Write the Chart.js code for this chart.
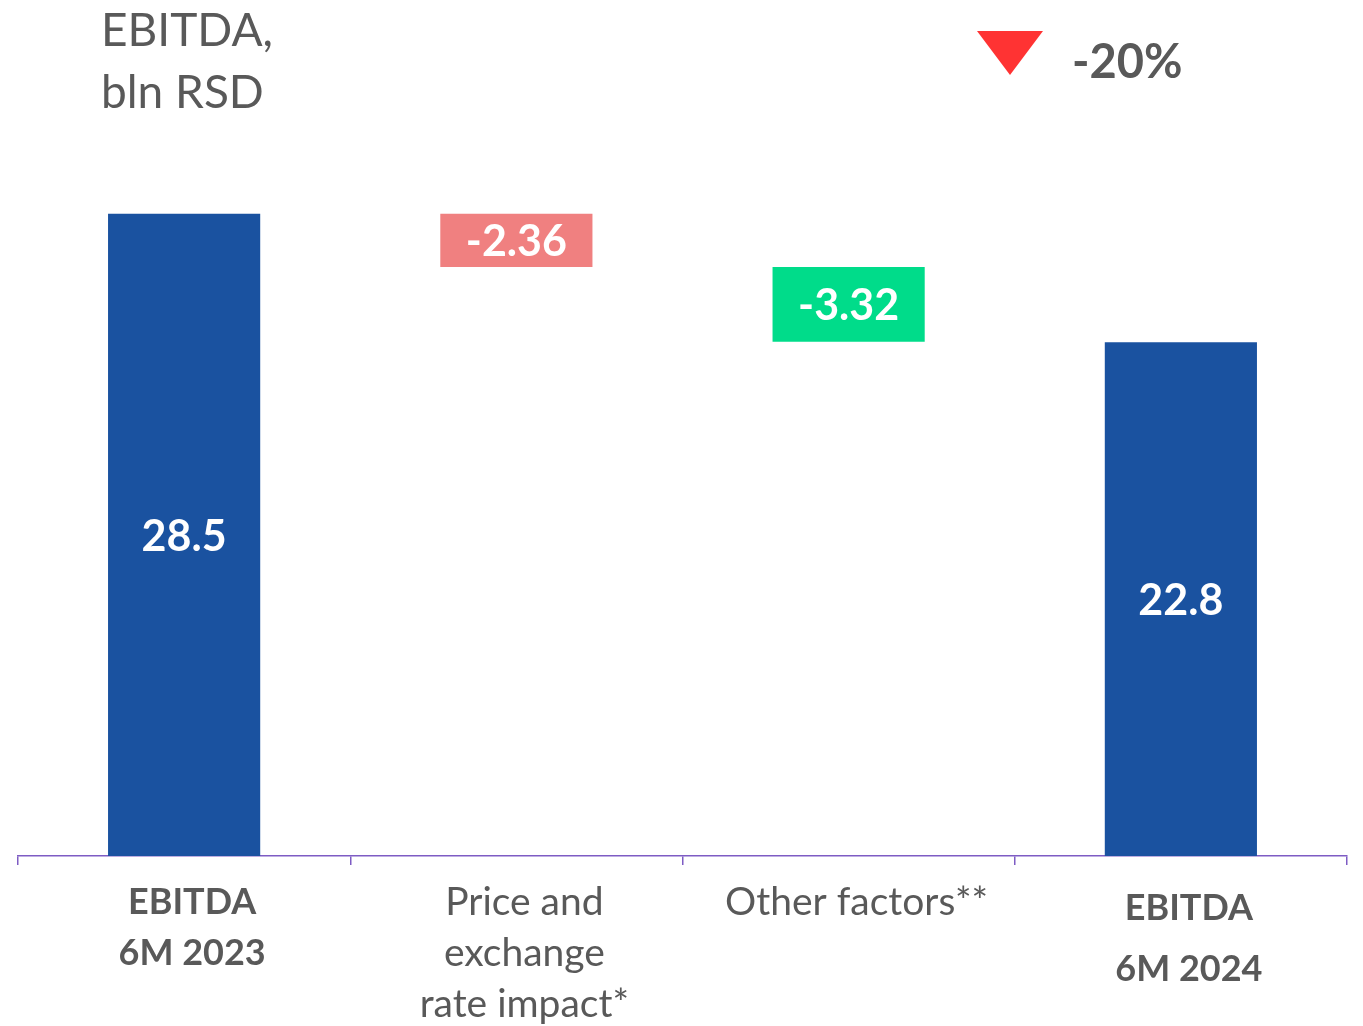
<!DOCTYPE html>
<html>
<head>
<meta charset="utf-8">
<script src="https://cdn.jsdelivr.net/npm/chart.js@4.4.1/dist/chart.umd.min.js"></script>
<style>
  html, body { margin: 0; padding: 0; background: #fff; }
  #wrap { position: relative; width: 1363px; height: 1026px; }
</style>
</head>
<body>
<div id="wrap"><canvas id="ebitdaChart" width="1363" height="1026"></canvas></div>
<script>
const categories = [
  ['EBITDA', '6M 2023'],
  ['Price and', 'exchange', 'rate impact*'],
  ['Other factors**'],
  ['EBITDA', '6M 2024'],
];
const values = [28.5, -2.36, -3.32, 22.8];
const isTotal = [true, false, false, true];
const barColors = ['#1A52A0', '#F08080', '#00DC8A', '#1A52A0'];
const titleLines = ['EBITDA,', 'bln RSD'];
const changeLabel = '-20%';

const FONT = 'Lato, "Open Sans", sans-serif';
const GRAY = '#595959';
const AXIS = '#7E5CC4';

// waterfall: totals start at 0, steps float from the running total
function buildRanges() {
  let running = 0;
  return values.map((v, i) => {
    if (isTotal[i]) {
      running = v;
      return [0, v];
    }
    const start = running;
    running += v;
    return [running, start];
  });
}

const valueLabels = {
  id: 'valueLabels',
  afterDatasetsDraw(chart) {
    const { ctx } = chart;
    const meta = chart.getDatasetMeta(0);
    ctx.save();
    ctx.fillStyle = '#fff';
    ctx.font = `bold 43px ${FONT}`;
    ctx.textAlign = 'center';
    ctx.textBaseline = 'middle';
    meta.data.forEach((bar, i) => {
      ctx.fillText(String(values[i]), bar.x, (bar.y + bar.base) / 2 + 2);
    });
    ctx.restore();
  },
};

const annotations = {
  id: 'annotations',
  afterDraw(chart) {
    const { ctx } = chart;
    ctx.save();
    ctx.fillStyle = GRAY;
    ctx.font = `46px ${FONT}`;
    ctx.textAlign = 'left';
    ctx.textBaseline = 'alphabetic';
    ctx.fillText(titleLines[0], 101, 46);
    ctx.fillText(titleLines[1], 101, 108);

    // red down triangle
    ctx.fillStyle = '#FF3333';
    ctx.beginPath();
    ctx.moveTo(977, 31);
    ctx.lineTo(1043, 31);
    ctx.lineTo(1010, 75);
    ctx.closePath();
    ctx.fill();

    ctx.fillStyle = GRAY;
    ctx.font = `bold 47px ${FONT}`;
    ctx.fillText(changeLabel, 1072, 78);
    ctx.restore();
  },
};

new Chart(document.getElementById('ebitdaChart').getContext('2d'), {
  type: 'bar',
  data: {
    labels: categories,
    datasets: [{
      data: buildRanges(),
      backgroundColor: barColors,
      borderWidth: 0,
      barPercentage: 0.458,
      categoryPercentage: 1,
    }],
  },
  options: {
    responsive: false,
    animation: false,
    layout: { padding: { top: 180, left: 18, right: 16, bottom: 0 } },
    plugins: {
      legend: { display: false },
      tooltip: { enabled: false },
    },
    scales: {
      x: {
        afterFit(scale) { scale.height = 170; },
        border: { display: true, color: AXIS, width: 1.5 },
        grid: {
          offset: true,
          drawOnChartArea: false,
          drawTicks: true,
          tickLength: 9,
          color: AXIS,
          lineWidth: 1.5,
        },
        ticks: {
          maxRotation: 0,
          autoSkip: false,
          padding: 12,
          labelOffset: 8,
          color: GRAY,
          font: (c) => {
            const i = c.index;
            if (isTotal[i]) {
              return { family: FONT, size: 36, weight: 'bold', lineHeight: i === 3 ? 1.72 : 1.42 };
            }
            return { family: FONT, size: 39, weight: 'normal', lineHeight: 1.31 };
          },
        },
      },
      y: {
        display: false,
        min: 0,
        max: 30,
      },
    },
  },
  plugins: [valueLabels, annotations],
});
</script>
</body>
</html>
